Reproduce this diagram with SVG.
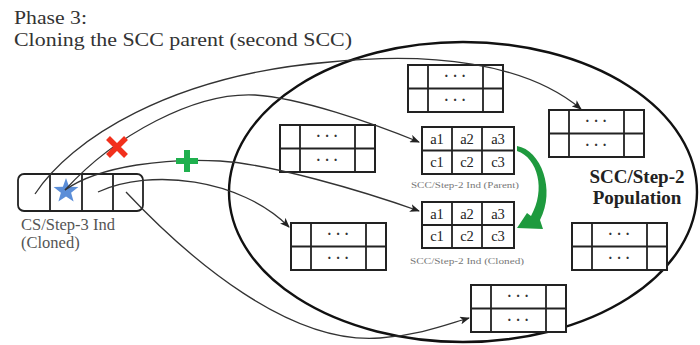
<svg xmlns="http://www.w3.org/2000/svg" width="700" height="345" viewBox="0 0 700 345">
  <style>
    .title { font-family: "Liberation Serif", "Times New Roman", serif; font-size: 19.5px; fill: #333; }
    .lbl { font-family: "Liberation Serif", "Times New Roman", serif; font-size: 16.5px; fill: #555; }
    .pop { font-family: "Liberation Serif", "Times New Roman", serif; font-size: 19px; font-weight: bold; fill: #222; text-anchor: middle; }
    .cell { font-family: "Liberation Serif", "Times New Roman", serif; font-size: 14.5px; fill: #222; text-anchor: middle; }
    .dots { font-family: "Liberation Serif", "Times New Roman", serif; font-size: 14px; font-weight: bold; fill: #333; text-anchor: middle; letter-spacing: 4px; }
    .tiny { font-family: "Liberation Serif", "Times New Roman", serif; font-size: 9px; fill: #777; text-anchor: middle; }
    .frame { fill: #fff; stroke: #222; stroke-width: 2; }
    .grid { fill: none; stroke: #222; stroke-width: 1.8; }
    .conn { fill: none; stroke: #333; stroke-width: 1.3; }
  </style>
  <defs>
    <marker id="arrow" markerUnits="userSpaceOnUse" markerWidth="10" markerHeight="8" refX="9" refY="4" orient="auto">
      <path d="M0,0 L10,4 L0,8 L2.5,4 Z" fill="#222"/>
    </marker>
    <!-- generic population member: 2 rows, narrow side columns -->
    <g id="member">
      <rect class="frame" x="0" y="0" width="95" height="47"/>
      <path class="grid" d="M0,23.5 H95 M20,0 V47 M75,0 V47"/>
      <text class="dots" x="49" y="16">···</text>
      <text class="dots" x="49" y="39.5">···</text>
    </g>
  </defs>

  <!-- heading -->
  <text class="title" x="14" y="24" textLength="73" lengthAdjust="spacingAndGlyphs">Phase 3:</text>
  <text class="title" x="14" y="46" textLength="338" lengthAdjust="spacingAndGlyphs">Cloning the SCC parent (second SCC)</text>

  <!-- population boundary -->
  <g id="population">
    <ellipse cx="463" cy="192" rx="234" ry="150" fill="none" stroke="#111" stroke-width="2.4"/>
    <text class="pop" x="637" y="183">SCC/Step-2</text>
    <text class="pop" x="637" y="204">Population</text>
  </g>

  <!-- population members -->
  <g id="member-a"><use href="#member" x="408" y="65"/></g>
  <g id="member-b"><use href="#member" x="280" y="125"/></g>
  <g id="member-c"><use href="#member" x="549" y="110"/></g>
  <g id="member-d"><use href="#member" x="291" y="223"/></g>
  <g id="member-e"><use href="#member" x="471" y="285"/></g>
  <g id="member-f"><use href="#member" x="572" y="223"/></g>

  <!-- parent individual -->
  <g id="parent">
    <rect class="frame" x="422" y="127" width="92" height="47"/>
    <path class="grid" d="M422,150.5 H514 M452,127 V174 M482,127 V174"/>
    <text class="cell" x="437" y="144">a1</text>
    <text class="cell" x="467" y="144">a2</text>
    <text class="cell" x="498" y="144">a3</text>
    <text class="cell" x="437" y="167">c1</text>
    <text class="cell" x="467" y="167">c2</text>
    <text class="cell" x="498" y="167">c3</text>
    <text class="tiny" x="465" y="188" textLength="108" lengthAdjust="spacingAndGlyphs">SCC/Step-2 Ind (Parent)</text>
  </g>

  <!-- cloned individual -->
  <g id="cloned">
    <rect class="frame" x="422" y="202" width="92" height="46"/>
    <path class="grid" d="M422,225 H514 M452,202 V248 M482,202 V248"/>
    <text class="cell" x="437" y="219">a1</text>
    <text class="cell" x="467" y="219">a2</text>
    <text class="cell" x="498" y="219">a3</text>
    <text class="cell" x="437" y="241">c1</text>
    <text class="cell" x="467" y="241">c2</text>
    <text class="cell" x="498" y="241">c3</text>
    <text class="tiny" x="467" y="264" textLength="114" lengthAdjust="spacingAndGlyphs">SCC/Step-2 Ind (Cloned)</text>
  </g>

  <!-- clone arrow: tapered curve from parent to clone -->
  <g id="clone-arrow">
    <path d="M517,146 C541,150 556,190 540,220 L543,229 L517,228 L527,213 L531,216 C546,190 538,158 517,151 Z" fill="#1e9a3e"/>
  </g>

  <!-- CS/Step-3 individual -->
  <g id="cs-ind">
    <rect x="18" y="174" width="125" height="37" rx="6" fill="#fff" stroke="#222" stroke-width="1.8"/>
    <path class="grid" d="M50,174 V211 M82,174 V211 M113,174 V211"/>
    <polygon points="66,178 69.1,186.7 78.4,187 71.1,192.7 73.6,201.6 66,196.4 58.4,201.6 60.9,192.7 53.6,187 62.9,186.7" fill="#5b8ed8"/>
    <text class="lbl" x="21" y="230">CS/Step-3 Ind</text>
    <text class="lbl" x="21" y="248">(Cloned)</text>
  </g>

  <!-- links from the CS individual's cells -->
  <g id="connectors">
    <path class="conn" d="M35,194 C70,140 170,75 330,62 C430,52 525,62 581,109" marker-end="url(#arrow)"/>
    <path class="conn" d="M65,190 C115,135 195,92 255,95 C300,98 370,122 419,142" marker-end="url(#arrow)"/>
    <path class="conn" d="M65,190 C100,165 170,158 220,161 C270,164 360,190 419,211" marker-end="url(#arrow)"/>
    <path class="conn" d="M98,192 C150,168 240,178 289,227" marker-end="url(#arrow)"/>
    <path class="conn" d="M126,192 C190,260 290,345 380,338 C420,335 445,325 469,318" marker-end="url(#arrow)"/>
  </g>

  <!-- removed / added marks -->
  <g id="removed-mark">
    <path d="M108,138 L126,156 M126,138 L108,156" stroke="#f2301c" stroke-width="5.5"/>
  </g>
  <g id="added-mark">
    <path d="M176,161 H198 M187,150 V172" stroke="#1fb04e" stroke-width="6"/>
  </g>
</svg>
